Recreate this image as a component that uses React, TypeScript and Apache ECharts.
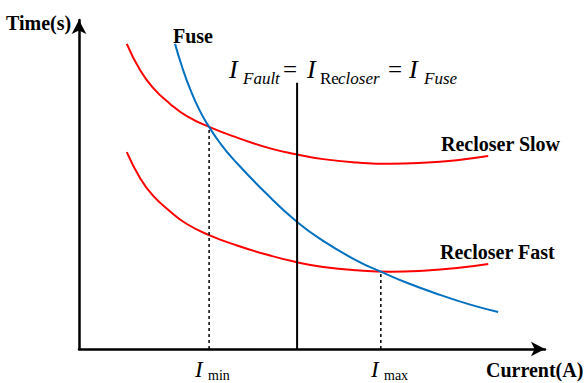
import React, { useEffect, useRef } from "react";
import * as echarts from "echarts";

// Current (x) and time (y) in arbitrary chart units
const slowCurrent = [10.1, 12.9, 15.6, 19.2, 22.8, 27.5, 33.4, 40.4, 46.1, 51.6, 58.8, 65.8, 72.7, 79.9, 86.5];
const slowTime = [90.8, 83.0, 77.8, 73.0, 69.3, 66.1, 62.9, 59.7, 57.9, 56.5, 55.5, 55.1, 55.4, 56.2, 57.4];
const fastCurrent = [10.1, 12.9, 15.6, 19.2, 22.8, 27.5, 33.4, 40.4, 46.1, 51.6, 58.8, 65.8, 72.7, 79.9, 86.5];
const fastTime = [58.6, 50.9, 45.7, 41.0, 37.2, 33.9, 30.8, 27.8, 25.8, 24.4, 23.4, 23.0, 23.3, 24.1, 25.3];
const fuseCurrent = [20.3, 21.8, 23.5, 25.6, 27.5, 29.8, 32.6, 39.7, 46.1, 51.6, 58.8, 63.8, 69.3, 76.3, 82.7, 88.6];
const fuseTime = [90.8, 83.9, 77.3, 70.7, 66.1, 61.3, 56.5, 46.1, 37.8, 32.2, 26.2, 23.0, 19.7, 16.1, 13.2, 11.0];

const faultCurrent = 46.1;
const faultLineTop = 79.2;
const iMinCurrent = 27.5;
const iMinTime = 66.1;
const iMaxCurrent = 63.8;
const iMaxTime = 23.0;

const xMax = 98.5;
const yMax = 97.9;

const SERIF = '"Liberation Serif", "Times New Roman", serif';

function zip(xs: number[], ys: number[]) {
  return xs.map((x, i) => [x, ys[i]]);
}

function txt(text: string, x: number, y: number, size: number, opts: any = {}) {
  return {
    type: "text",
    x,
    y,
    silent: true,
    style: {
      text,
      fontSize: size,
      fontFamily: SERIF,
      fontWeight: opts.bold ? "bold" : "normal",
      fontStyle: opts.italic ? "italic" : "normal",
      fill: "#000",
      align: "left",
      verticalAlign: "middle",
    },
  };
}

export default function App() {
  const ref = useRef<HTMLDivElement>(null);
  useEffect(() => {
    document.body.style.margin = "0";
    const chart = echarts.init(ref.current!, null, { renderer: "svg" });
    const axisCommon = {
      type: "value",
      min: 0,
      axisLine: {
        show: true,
        symbol: ["none", "arrow"],
        symbolSize: [11, 14],
        lineStyle: { color: "#000", width: 2.5 },
      },
      axisTick: { show: false },
      axisLabel: { show: false },
      splitLine: { show: false },
    };
    const curve = (name: string, xs: number[], ys: number[], color: string) => ({
      name,
      type: "line",
      data: zip(xs, ys),
      smooth: 0.5,
      showSymbol: false,
      lineStyle: { color, width: 2 },
    });
    chart.setOption({
      animation: false,
      backgroundColor: "#fff",
      grid: { left: 79, right: 40, top: 20, bottom: 34 },
      xAxis: { ...axisCommon, max: xMax },
      yAxis: { ...axisCommon, max: yMax },
      series: [
        curve("Recloser Slow", slowCurrent, slowTime, "#FF0000"),
        curve("Recloser Fast", fastCurrent, fastTime, "#FF0000"),
        curve("Fuse", fuseCurrent, fuseTime, "#0070C0"),
        {
          name: "Fault",
          type: "line",
          data: [[faultCurrent, 0], [faultCurrent, faultLineTop]],
          showSymbol: false,
          lineStyle: { color: "#000", width: 2 },
        },
        {
          name: "Imin",
          type: "line",
          data: [[iMinCurrent, 0], [iMinCurrent, iMinTime]],
          showSymbol: false,
          lineStyle: { color: "#000", width: 1.5, type: [3, 3] },
        },
        {
          name: "Imax",
          type: "line",
          data: [[iMaxCurrent, 0], [iMaxCurrent, iMaxTime]],
          showSymbol: false,
          lineStyle: { color: "#000", width: 1.5, type: [3, 3] },
        },
      ],
      graphic: [
        txt("Time(s)", 6, 22.5, 20, { bold: true }),
        txt("Fuse", 173, 36, 20, { bold: true }),
        txt("Recloser Slow", 441, 144.4, 20, { bold: true }),
        txt("Recloser Fast", 440, 252.4, 20, { bold: true }),
        txt("Current(A)", 486, 370.4, 20, { bold: true }),
        // formula
        txt("I", 229, 69.6, 26, { italic: true }),
        txt("Fault", 243, 78.5, 17, { italic: true }),
        txt("=", 283, 69.6, 25),
        txt("I", 307, 69.6, 26, { italic: true }),
        txt("Re", 320, 78.5, 17),
        txt("closer", 338, 78.5, 17, { italic: true }),
        txt("=", 388, 69.6, 25),
        txt("I", 409, 69.6, 26, { italic: true }),
        txt("Fuse", 424, 78.5, 17, { italic: true }),
        // axis marks
        txt("I", 195, 369.6, 23, { italic: true }),
        txt("min", 208, 375, 14),
        txt("I", 371, 369.6, 23, { italic: true }),
        txt("max", 384, 375, 14),
      ],
    });
    return () => chart.dispose();
  }, []);
  return <div ref={ref} style={{ width: 585, height: 383 }} />;
}
